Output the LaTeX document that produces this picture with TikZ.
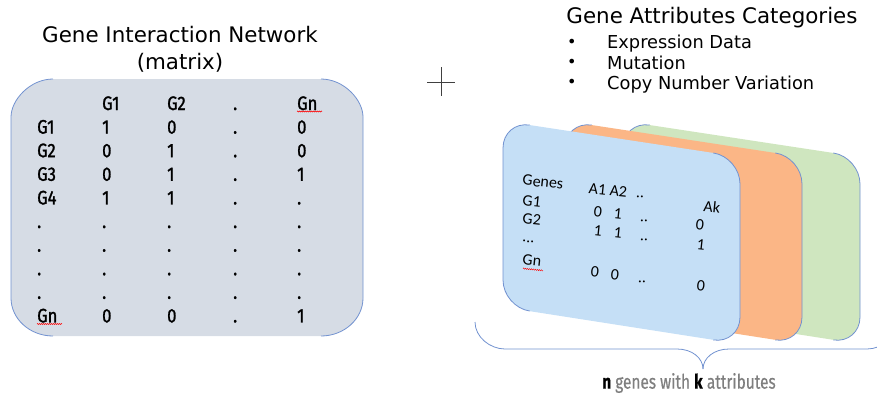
\documentclass[tikz,border=0pt]{standalone}
\usepackage{fontspec}
\usepackage{graphicx}
\setmainfont{DejaVu Sans}
\newfontfamily\matfont[FakeStretch=0.85,FakeBold=1.3]{Fira Sans}
\newfontfamily\capfont[FakeStretch=0.77,FakeBold=0.6]{Fira Sans}
\newfontfamily\calfont{Carlito}
\usetikzlibrary{decorations.pathmorphing}
\definecolor{edgeblue}{HTML}{7292D0}
\definecolor{boxgray}{HTML}{D6DCE5}
\definecolor{cardblue}{HTML}{C5DFF6}
\definecolor{cardorange}{HTML}{FBB686}
\definecolor{cardgreen}{HTML}{CFE6BF}
\definecolor{plusgray}{HTML}{404040}
\definecolor{capgray}{HTML}{7F7F7F}
\newcommand{\tilt}[1]{\rotatebox{-6}{#1}}
\tikzset{
  mat/.style={font={\matfont\fontsize{19.5}{22}\selectfont}, anchor=base west, inner sep=0pt},
  cal/.style={font={\calfont\fontsize{16}{17}\selectfont}, inner sep=0pt},
  ttl/.style={font={\fontsize{21.4}{27}\selectfont}, inner sep=0pt, align=center},
  bul/.style={font={\fontsize{17.8}{20}\selectfont}, inner sep=0pt, anchor=west},
  outl/.style={draw=edgeblue, line width=0.8pt},
  squig/.style={draw=red, line width=0.4pt, decorate, decoration={zigzag, amplitude=0.6pt, segment length=2pt}},
}
\begin{document}
\begin{tikzpicture}[x=1pt,y=-1pt]
\useasboundingbox (0,0) rectangle (877,396);
\clip (0,0) rectangle (877,396);

% ---------- left matrix box ----------
\fill[boxgray] (53,79) -- (321,79) .. controls (344,79) and (363,100) .. (363,117)
  -- (363,298) .. controls (363,319) and (344,336) .. (321,336)
  -- (53,336) .. controls (30,336) and (11,319) .. (11,298)
  -- (11,117) .. controls (11,100) and (30,79) .. (53,79) -- cycle;
\draw[outl] (53,79) .. controls (30,79) and (11,100) .. (11,117) -- (11,298)
  .. controls (11,319) and (30,336) .. (53,336);
\draw[outl] (321,79) .. controls (344,79) and (363,100) .. (363,117) -- (363,298)
  .. controls (363,319) and (344,336) .. (321,336);

\node[ttl] (title1) at (180,49) {Gene Interaction Network\\(matrix)};

% header
\node[mat] (h1) at (102,110) {G1};
\node[mat] (h2) at (167,110) {G2};
\node[mat] (h3) at (233,110) {.};
\node[mat] (hn) at (297,110) {Gn};
% rows
\node[mat] (r1) at (37,133.6) {G1};
\node[mat] at (102,133.6) {1};
\node[mat] at (167,133.6) {0};
\node[mat] at (233,133.6) {.};
\node[mat] at (297,133.6) {0};
\node[mat] (r2) at (37,157.2) {G2};
\node[mat] at (102,157.2) {0};
\node[mat] at (167,157.2) {1};
\node[mat] at (233,157.2) {.};
\node[mat] at (297,157.2) {0};
\node[mat] (r3) at (37,180.8) {G3};
\node[mat] at (102,180.8) {0};
\node[mat] at (167,180.8) {1};
\node[mat] at (233,180.8) {.};
\node[mat] at (297,180.8) {1};
\node[mat] (r4) at (37,204.4) {G4};
\node[mat] at (102,204.4) {1};
\node[mat] at (167,204.4) {1};
\node[mat] at (233,204.4) {.};
\node[mat] at (297,204.4) {.};
\foreach \yy in {228,251.6,275.2,298.8}{
  \foreach \xx in {37,102,167,233,297}{
    \node[mat] at (\xx,\yy) {.};
  }
}
\node[mat] (rn) at (37,322.4) {Gn};
\node[mat] at (102,322.4) {0};
\node[mat] at (167,322.4) {0};
\node[mat] at (233,322.4) {.};
\node[mat] at (297,322.4) {1};
\draw[squig] (297,111.5) -- (322,111.5);
\draw[squig] (37,324) -- (62,324);

% ---------- plus ----------
\draw[plusgray, line width=0.8pt] (427,82) -- (455,82);
\draw[plusgray, line width=0.8pt] (441,67) -- (441,96);

% ---------- right title ----------
\node[ttl] (title2) at (712,18) {Gene Attributes Categories};
\node[bul, font={\fontsize{16}{20}\selectfont}] (b1) at (567,43) {•};
\node[bul, font={\fontsize{16}{20}\selectfont}] (b2) at (567,63) {•};
\node[bul, font={\fontsize{16}{20}\selectfont}] (b3) at (567,83) {•};
\node[bul] (t1) at (607,44) {Expression Data};
\node[bul] (t2) at (607,63) {Mutation};
\node[bul] (t3) at (607,85) {Copy Number Variation};

% ---------- cards ----------
\foreach \dx/\col in {120/cardgreen,62/cardorange,0/cardblue}{
  \begin{scope}[xshift=\dx pt]
  \fill[\col, rounded corners=27] (503,121) -- (740,157) -- (740,344) -- (503,307) -- cycle;
  \draw[outl, rounded corners=27] (529.7,125.05) -- (503,121) -- (503,307) -- (529.7,311.05);
  \draw[outl, rounded corners=27] (713.3,152.95) -- (740,157) -- (740,344) -- (713.3,339.95);
  \end{scope}
}

% card text
\node[cal, anchor=west] (genes) at (522,182) {\tilt{Genes}};
\node[cal, anchor=west] (cg1) at (522,201) {\tilt{G1}};
\node[cal, anchor=west] (cg2) at (522,219.5) {\tilt{G2}};
\node[cal, anchor=west] (cdots) at (522,241.5) {\tilt{...}};
\node[cal, anchor=west] (cgn) at (522,260) {\tilt{Gn}};
\draw[squig] (523,268.5) -- (543,270.5);
\node[cal] (a12) at (608,190) {\tilt{A1 A2}};
\node[cal] at (640,197) {\tilt{..}};
\node[cal] (ak) at (712,207) {\tilt{Ak}};
\node[cal] at (598,212) {\tilt{0}};
\node[cal] at (618,214) {\tilt{1}};
\node[cal] at (644,221) {\tilt{..}};
\node[cal] at (700,225) {\tilt{0}};
\node[cal] at (598,231) {\tilt{1}};
\node[cal] at (618,233) {\tilt{1}};
\node[cal] at (644,240) {\tilt{..}};
\node[cal] at (701,245) {\tilt{1}};
\node[cal] at (595,272) {\tilt{0}};
\node[cal] at (615,275) {\tilt{0}};
\node[cal] at (642,282) {\tilt{..}};
\node[cal] at (701,286) {\tilt{0}};

% ---------- brace ----------
\coordinate (bl) at (475,322);
\coordinate (tip) at (703,369);
\coordinate (br) at (897,322);
\draw[outl] (bl) .. controls (475,337) and (490,349) .. (505,349) -- (677,349)
  .. controls (692,349) and (703,358) .. (tip);
\draw[outl] (tip) .. controls (703,358) and (714,349) .. (729,349) -- (867,349)
  .. controls (882,349) and (897,337) .. (br);

\node[font={\capfont\fontsize{20}{22}\selectfont}, text=capgray, inner sep=0pt] (cap) at (689,383)
  {\textcolor{black}{\textbf{n}} genes with \textcolor{black}{\textbf{k}} attributes};
\end{tikzpicture}
\end{document}
